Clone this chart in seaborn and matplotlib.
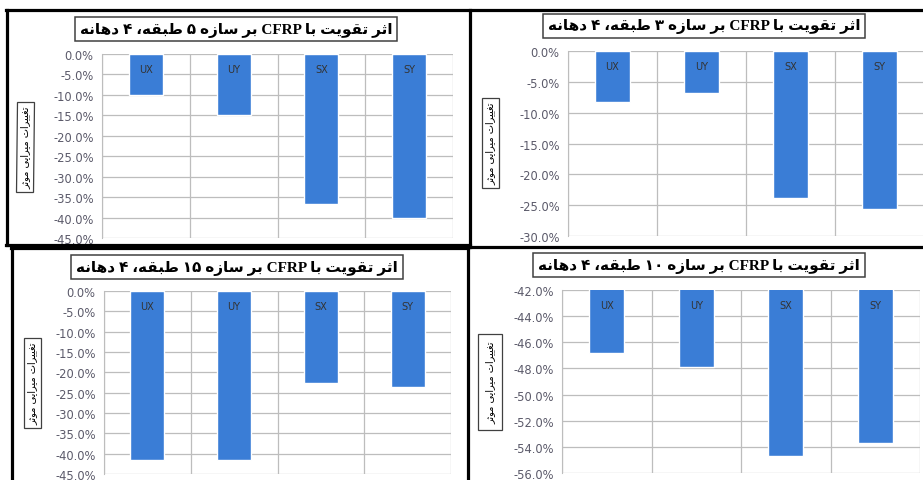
import matplotlib
matplotlib.use('Agg')
import matplotlib.pyplot as plt
from matplotlib.lines import Line2D
from matplotlib.ticker import PercentFormatter, FixedLocator
import seaborn as sns

# data (percent change of effective damping)
cats = ['UX', 'UY', 'SX', 'SY']
story5 = [-10.1, -15.0, -36.8, -40.2]
story3 = [-8.2, -6.8, -23.9, -25.7]
story15 = [-41.5, -41.5, -22.7, -23.7]
story10 = [-46.8, -47.9, -54.7, -53.7]

titles = ['اثر تقویت با CFRP بر سازه ۵ طبقه، ۴ دهانه',
          'اثر تقویت با CFRP بر سازه ۳ طبقه، ۴ دهانه',
          'اثر تقویت با CFRP بر سازه ۱۵ طبقه، ۴ دهانه',
          'اثر تقویت با CFRP بر سازه ۱۰ طبقه، ۴ دهانه']
ylabel = 'تغییرات میرایی موثر'

# minimal arabic shaping (matplotlib has no shaping / bidi)
FORMS = {
    'ا': ('\uFE8D', '\uFE8E', None, None),
    'ب': ('\uFE8F', '\uFE90', '\uFE91', '\uFE92'),
    'ت': ('\uFE95', '\uFE96', '\uFE97', '\uFE98'),
    'ث': ('\uFE99', '\uFE9A', '\uFE9B', '\uFE9C'),
    'د': ('\uFEA9', '\uFEAA', None, None),
    'ر': ('\uFEAD', '\uFEAE', None, None),
    'ز': ('\uFEAF', '\uFEB0', None, None),
    'س': ('\uFEB1', '\uFEB2', '\uFEB3', '\uFEB4'),
    'ط': ('\uFEC1', '\uFEC2', '\uFEC3', '\uFEC4'),
    'غ': ('\uFECD', '\uFECE', '\uFECF', '\uFED0'),
    'ق': ('\uFED5', '\uFED6', '\uFED7', '\uFED8'),
    'م': ('\uFEE1', '\uFEE2', '\uFEE3', '\uFEE4'),
    'ن': ('\uFEE5', '\uFEE6', '\uFEE7', '\uFEE8'),
    'ه': ('\uFEE9', '\uFEEA', '\uFEEB', '\uFEEC'),
    'و': ('\uFEED', '\uFEEE', None, None),
    'ی': ('\uFEEF', '\uFEF0', '\uFEF3', '\uFEF4'),
}


def shape_word(w):
    out = []
    for i, ch in enumerate(w):
        if ch not in FORMS:
            out.append(ch)
            continue
        prev = i > 0 and w[i-1] in FORMS and FORMS[w[i-1]][2] is not None
        nxt = i < len(w)-1 and w[i+1] in FORMS and FORMS[ch][2] is not None
        iso, fin, ini, med = FORMS[ch]
        if prev and nxt:
            out.append(med)
        elif prev:
            out.append(fin)
        elif nxt:
            out.append(ini)
        else:
            out.append(iso)
    return ''.join(out)


def rtl(text):
    words = []
    for tok in reversed(text.split(' ')):
        if tok.isdigit():
            words.append(tok)   # numbers stay left-to-right
        elif any(c in FORMS or '\u0600' <= c <= '\u06FF' for c in tok):
            words.append(shape_word(tok)[::-1])
        else:
            words.append(tok)
    return ' '.join(words)


W, H = 923, 481
plt.rcParams['axes.unicode_minus'] = False
sns.set_style('white')
plt.rcParams['font.family'] = ['DejaVu Sans']

fig = plt.figure(figsize=(W/100, H/100), dpi=100)

panels = [
    (story5, (102, 453, 55, 239), (0, -45), 5, (236, 30), (25, 148), 2.5),
    (story3, (568, 924, 52, 237), (-30, 0), 5, (704, 27), (490, 144), 2.5),
    (story15, (104, 451, 292, 475), (-45, 0), 5, (237, 268), (32, 384), 2.5),
    (story10, (562, 920, 291, 474), (-56, -42), 2, (699, 266), (490, 383), 5),
]

bar_color = '#3a7dd6'
tick_color = '#5b5a6a'
grid_color = '#bdbdbd'

for k, (vals, (x0, x1, yt, yb), lim, step, tpos, lpos, lpad) in enumerate(panels):
    ax = fig.add_axes([x0/W, 1-yb/H, (x1-x0)/W, (yb-yt)/H])
    sns.barplot(x=cats, y=vals, color=bar_color, saturation=1, width=0.39, ax=ax)
    lo, hi = min(lim), max(lim)
    ax.set_ylim(lo, hi)
    ax.set_xlim(-0.5, 3.5)
    ticks = list(range(lo, hi+1, step))
    ax.set_yticks(ticks)
    ax.yaxis.set_major_formatter(PercentFormatter(xmax=100, decimals=1))
    ax.xaxis.set_minor_locator(FixedLocator([-0.5, 0.5, 1.5, 2.5, 3.5]))
    ax.set_xticks([])
    ax.grid(axis='y', which='major', color=grid_color, lw=0.9)
    ax.grid(axis='x', which='minor', color=grid_color, lw=0.9)
    ax.set_axisbelow(True)
    for s in ['top', 'right', 'bottom']:
        ax.spines[s].set_visible(False)
    ax.spines['left'].set_color(grid_color)
    ax.tick_params(axis='y', length=4, color=grid_color, labelcolor=tick_color,
                   labelsize=8.3, pad=2)
    ax.tick_params(axis='x', which='both', length=0)
    ax.set_xlabel('')
    ax.set_ylabel('')
    for i, c in enumerate(cats):
        ax.annotate(c, xy=(i, 1), xycoords=('data', 'axes fraction'),
                    xytext=(0, -10.5), textcoords='offset points',
                    ha='center', va='center', fontsize=7, color='#333333')

    fig.text(tpos[0]/W, 1-tpos[1]/H, rtl(titles[k]), ha='center', va='center',
             fontsize=11, fontweight='bold', color='black',
             family=['Liberation Serif', 'DejaVu Sans'],
             bbox=dict(facecolor='white', edgecolor='#404040', lw=1.1, pad=3.5))
    fig.text(lpos[0]/W, 1-lpos[1]/H, rtl(ylabel), ha='center', va='center',
             rotation=90, fontsize=7, color='black',
             bbox=dict(facecolor='white', edgecolor='#404040', lw=0.9, pad=lpad))

# black panel frames
segs = [
    ((6, 923), (11, 11)),
    ((7, 7), (11, 246)),
    ((6, 470), (245.5, 245.5)),
    ((468, 923), (248, 248)),
    ((11, 468), (248.5, 248.5)),
    ((470.5, 470.5), (11, 248)),
    ((468, 468), (248, 481)),
    ((12, 12), (248, 481)),
]
for xs, ys in segs:
    fig.add_artist(Line2D([x/W for x in xs], [1-y/H for y in ys],
                          transform=fig.transFigure, color='black', lw=2.3,
                          solid_capstyle='projecting'))

fig.savefig('out.png', dpi=100)
